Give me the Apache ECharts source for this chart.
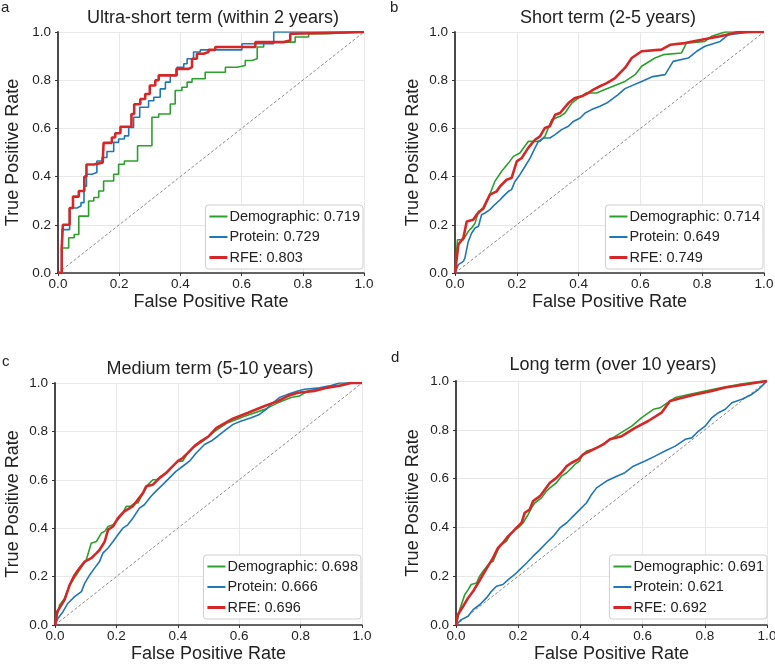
<!DOCTYPE html>
<html>
<head>
<meta charset="utf-8">
<script src="https://cdn.jsdelivr.net/npm/echarts@6/dist/echarts.min.js"></script>
<style>
  html, body { margin: 0; padding: 0; background: #fff; }
  #chart { width: 775px; height: 665px; }
</style>
</head>
<body>
<div id="chart"></div>
<script>
// panel titles / letters
const panelTitles = [
  'Ultra-short term (within 2 years)',
  'Short term (2-5 years)',
  'Medium term (5-10 years)',
  'Long term (over 10 years)'
]
const panelLetters = ['a', 'b', 'c', 'd']
const tickValues = [0, 0.2, 0.4, 0.6, 0.8, 1.0]

// AUC per panel
const aucDemographic = ['0.719', '0.714', '0.698', '0.691']
const aucProtein = ['0.729', '0.649', '0.666', '0.621']
const aucRfe = ['0.803', '0.749', '0.696', '0.692']

// ROC points [fpr, tpr]
const rocADemographic = [[0,0],[0.013,0.104],[0.024,0.104],[0.035,0.146],[0.053,0.16],[0.068,0.236],[0.089,0.236],[0.1,0.299],[0.117,0.313],[0.133,0.34],[0.149,0.382],[0.169,0.382],[0.182,0.41],[0.198,0.451],[0.217,0.465],[0.242,0.465],[0.26,0.528],[0.291,0.528],[0.307,0.646],[0.329,0.66],[0.351,0.66],[0.367,0.701],[0.383,0.757],[0.405,0.771],[0.422,0.792],[0.438,0.806],[0.46,0.806],[0.481,0.833],[0.525,0.833],[0.547,0.854],[0.585,0.861],[0.612,0.882],[0.634,0.889],[0.651,0.938],[0.672,0.958],[0.737,0.958],[0.775,0.979],[0.808,0.979],[0.819,0.993],[0.879,0.993],[0.884,1],[1,1]]
const rocAProtein = [[0,0],[0.013,0.18],[0.027,0.18],[0.038,0.27],[0.062,0.278],[0.075,0.292],[0.085,0.36],[0.093,0.41],[0.111,0.417],[0.127,0.465],[0.144,0.479],[0.16,0.504],[0.182,0.542],[0.198,0.556],[0.217,0.569],[0.231,0.604],[0.247,0.646],[0.267,0.688],[0.28,0.688],[0.296,0.715],[0.313,0.729],[0.334,0.764],[0.351,0.792],[0.367,0.82],[0.389,0.854],[0.411,0.868],[0.422,0.889],[0.443,0.917],[0.465,0.926],[0.579,0.926],[0.601,0.951],[0.683,0.951],[0.705,1],[1,1]]
const rocARfe = [[0,0],[0.012,0.1],[0.016,0.2],[0.029,0.2],[0.038,0.27],[0.049,0.317],[0.068,0.34],[0.078,0.34],[0.086,0.4],[0.093,0.45],[0.117,0.458],[0.146,0.458],[0.149,0.54],[0.166,0.54],[0.176,0.562],[0.187,0.58],[0.204,0.607],[0.231,0.607],[0.24,0.66],[0.249,0.7],[0.269,0.722],[0.285,0.743],[0.3,0.778],[0.307,0.778],[0.318,0.8],[0.329,0.82],[0.362,0.82],[0.387,0.847],[0.427,0.854],[0.438,0.889],[0.454,0.91],[0.476,0.917],[0.492,0.926],[0.514,0.938],[0.601,0.938],[0.645,0.958],[0.737,0.965],[0.759,0.993],[0.77,1],[1,1]]

const rocBDemographic = [[0,0],[0.008,0.138],[0.027,0.138],[0.043,0.173],[0.054,0.187],[0.065,0.207],[0.076,0.256],[0.092,0.263],[0.108,0.311],[0.129,0.38],[0.151,0.422],[0.173,0.456],[0.189,0.484],[0.21,0.498],[0.237,0.546],[0.275,0.546],[0.291,0.567],[0.313,0.636],[0.34,0.65],[0.356,0.664],[0.378,0.705],[0.399,0.726],[0.426,0.747],[0.458,0.747],[0.485,0.761],[0.55,0.795],[0.583,0.823],[0.604,0.858],[0.647,0.892],[0.674,0.906],[0.733,0.913],[0.749,0.954],[0.809,0.961],[0.83,0.982],[0.874,1],[1,1]]
const rocBProtein = [[0,0],[0.011,0.035],[0.027,0.048],[0.032,0.062],[0.043,0.131],[0.054,0.166],[0.065,0.187],[0.076,0.194],[0.086,0.242],[0.097,0.249],[0.113,0.263],[0.129,0.284],[0.146,0.304],[0.156,0.318],[0.173,0.339],[0.183,0.346],[0.194,0.38],[0.21,0.408],[0.227,0.443],[0.243,0.477],[0.259,0.519],[0.27,0.546],[0.286,0.56],[0.307,0.56],[0.324,0.574],[0.345,0.595],[0.367,0.609],[0.383,0.629],[0.405,0.643],[0.421,0.664],[0.442,0.678],[0.469,0.692],[0.491,0.705],[0.528,0.74],[0.55,0.765],[0.604,0.795],[0.64,0.815],[0.68,0.823],[0.706,0.878],[0.755,0.892],[0.782,0.92],[0.809,0.941],[0.858,0.961],[0.885,0.989],[0.96,1],[1,1]]
const rocBRfe = [[0,0],[0.011,0.118],[0.027,0.145],[0.038,0.214],[0.059,0.221],[0.07,0.242],[0.092,0.27],[0.113,0.325],[0.135,0.339],[0.146,0.36],[0.167,0.387],[0.183,0.394],[0.2,0.463],[0.216,0.477],[0.237,0.519],[0.259,0.553],[0.275,0.567],[0.291,0.602],[0.307,0.609],[0.324,0.657],[0.34,0.664],[0.367,0.705],[0.388,0.726],[0.41,0.733],[0.431,0.747],[0.448,0.761],[0.469,0.775],[0.491,0.788],[0.518,0.809],[0.55,0.851],[0.572,0.892],[0.604,0.92],[0.668,0.927],[0.696,0.947],[0.744,0.954],[0.798,0.968],[0.858,0.982],[0.917,1],[1,1]]

const rocCDemographic = [[0,0],[0.015,0.083],[0.031,0.11],[0.048,0.166],[0.07,0.207],[0.091,0.249],[0.102,0.27],[0.118,0.338],[0.135,0.345],[0.151,0.38],[0.162,0.387],[0.173,0.407],[0.189,0.414],[0.205,0.435],[0.221,0.463],[0.232,0.49],[0.245,0.49],[0.259,0.504],[0.27,0.504],[0.287,0.546],[0.303,0.58],[0.319,0.6],[0.33,0.6],[0.346,0.615],[0.368,0.635],[0.384,0.656],[0.4,0.677],[0.416,0.677],[0.433,0.711],[0.449,0.732],[0.482,0.76],[0.52,0.8],[0.563,0.836],[0.618,0.863],[0.683,0.891],[0.726,0.918],[0.769,0.94],[0.796,0.946],[0.823,0.967],[0.877,0.981],[0.92,0.988],[0.952,1],[1,1]]
const rocCProtein = [[0,0],[0.01,0.028],[0.026,0.055],[0.042,0.09],[0.064,0.117],[0.086,0.138],[0.097,0.173],[0.113,0.207],[0.129,0.235],[0.145,0.262],[0.156,0.297],[0.173,0.318],[0.189,0.345],[0.205,0.373],[0.221,0.4],[0.237,0.414],[0.254,0.442],[0.275,0.483],[0.291,0.497],[0.313,0.532],[0.329,0.553],[0.351,0.58],[0.373,0.608],[0.394,0.635],[0.416,0.656],[0.438,0.677],[0.46,0.711],[0.487,0.746],[0.509,0.76],[0.53,0.78],[0.558,0.808],[0.58,0.829],[0.607,0.843],[0.639,0.856],[0.666,0.87],[0.688,0.891],[0.704,0.912],[0.731,0.94],[0.758,0.953],[0.791,0.967],[0.813,0.974],[0.862,0.98],[0.894,0.988],[0.927,1],[1,1]]
const rocCRfe = [[0,0],[0.007,0.055],[0.021,0.083],[0.031,0.104],[0.048,0.166],[0.064,0.207],[0.08,0.235],[0.097,0.262],[0.118,0.276],[0.135,0.297],[0.145,0.31],[0.162,0.345],[0.173,0.394],[0.189,0.407],[0.205,0.442],[0.226,0.47],[0.253,0.49],[0.27,0.518],[0.287,0.546],[0.297,0.573],[0.319,0.58],[0.341,0.608],[0.362,0.628],[0.378,0.649],[0.4,0.677],[0.416,0.69],[0.433,0.711],[0.454,0.739],[0.476,0.76],[0.501,0.78],[0.526,0.815],[0.575,0.85],[0.629,0.877],[0.683,0.905],[0.726,0.925],[0.758,0.946],[0.791,0.96],[0.845,0.967],[0.888,0.981],[0.931,0.99],[0.964,1],[1,1]]

const rocDDemographic = [[0,0],[0.012,0.063],[0.028,0.124],[0.039,0.145],[0.049,0.166],[0.066,0.172],[0.076,0.2],[0.087,0.22],[0.108,0.254],[0.119,0.261],[0.135,0.309],[0.146,0.33],[0.162,0.343],[0.178,0.378],[0.189,0.391],[0.2,0.398],[0.216,0.419],[0.232,0.453],[0.243,0.48],[0.253,0.5],[0.275,0.521],[0.291,0.549],[0.302,0.562],[0.323,0.583],[0.339,0.61],[0.356,0.624],[0.372,0.644],[0.382,0.658],[0.398,0.672],[0.404,0.692],[0.42,0.713],[0.441,0.72],[0.463,0.733],[0.479,0.747],[0.522,0.781],[0.565,0.815],[0.597,0.85],[0.635,0.884],[0.656,0.89],[0.672,0.904],[0.705,0.932],[0.748,0.945],[0.801,0.959],[0.855,0.973],[0.909,0.986],[0.989,1],[1,1]]
const rocDProtein = [[0,0],[0.017,0.022],[0.039,0.036],[0.055,0.063],[0.076,0.083],[0.098,0.111],[0.114,0.138],[0.13,0.159],[0.151,0.166],[0.168,0.186],[0.189,0.207],[0.205,0.227],[0.227,0.254],[0.248,0.282],[0.27,0.309],[0.291,0.337],[0.313,0.364],[0.334,0.398],[0.356,0.419],[0.377,0.446],[0.398,0.473],[0.42,0.501],[0.436,0.535],[0.452,0.562],[0.484,0.59],[0.517,0.61],[0.543,0.624],[0.57,0.651],[0.608,0.672],[0.64,0.692],[0.672,0.713],[0.705,0.733],[0.737,0.761],[0.758,0.767],[0.78,0.795],[0.801,0.815],[0.823,0.85],[0.844,0.87],[0.866,0.884],[0.887,0.911],[0.919,0.925],[0.951,0.945],[0.973,0.966],[0.989,0.986],[1,1]]
const rocDRfe = [[0,0],[0.006,0.042],[0.023,0.077],[0.039,0.111],[0.055,0.138],[0.071,0.172],[0.087,0.207],[0.103,0.241],[0.119,0.275],[0.135,0.316],[0.151,0.337],[0.168,0.364],[0.184,0.384],[0.194,0.398],[0.211,0.419],[0.221,0.46],[0.237,0.473],[0.248,0.508],[0.27,0.528],[0.286,0.555],[0.302,0.583],[0.323,0.603],[0.339,0.624],[0.356,0.651],[0.372,0.665],[0.393,0.679],[0.409,0.699],[0.431,0.713],[0.452,0.726],[0.474,0.74],[0.495,0.761],[0.533,0.774],[0.576,0.808],[0.618,0.836],[0.661,0.87],[0.688,0.918],[0.731,0.932],[0.769,0.945],[0.823,0.959],[0.866,0.973],[0.93,0.986],[1,1]]

const chanceLine = [[0, 0], [1, 1]]

const rocDemographic = [rocADemographic, rocBDemographic, rocCDemographic, rocDDemographic]
const rocProtein = [rocAProtein, rocBProtein, rocCProtein, rocDProtein]
const rocRfe = [rocARfe, rocBRfe, rocCRfe, rocDRfe]

// layout of the 2x2 panels (px)
const panels = [
  { left: 58, top: 32, width: 306, height: 241, legendRight: 412, legendBottom: 396, nameGapY: 36, titleX: 213, titleY: 9, letterX: 1, letterY: 0 },
  { left: 455, top: 32, width: 309, height: 241, legendRight: 12, legendBottom: 396, nameGapY: 33, titleX: 608, titleY: 9, letterX: 390, letterY: 0 },
  { left: 55, top: 383, width: 307, height: 242, legendRight: 414, legendBottom: 46, nameGapY: 33, titleX: 210, titleY: 360, letterX: 2, letterY: 354 },
  { left: 456, top: 381, width: 311, height: 244, legendRight: 8, legendBottom: 46, nameGapY: 34, titleX: 613, titleY: 356, letterX: 391, letterY: 350 }
]

const FONT = 'Liberation Sans, Arial, Helvetica, sans-serif'
const GREEN = '#2ca02c'
const BLUE = '#1f77b4'
const RED = '#d62728'
const TXT = '#222'

// legend line samples: invisible move-tos keep a 18x12 box, the bar is the visible line
const thinIcon = 'path://M0,0 M18,12 M0,5 L18,5 L18,7 L0,7 Z'
const thickIcon = 'path://M0,0 M18,12 M0,4.5 L18,4.5 L18,7.5 L0,7.5 Z'

const chart = echarts.init(document.getElementById('chart'))

const grids = []
const xAxes = []
const yAxes = []
const legends = []
const series = []
const graphics = []

panels.forEach((p, i) => {
  grids.push({ left: p.left, top: p.top, width: p.width, height: p.height, containLabel: false, outerBoundsMode: 'none' })

  const axisBase = {
    type: 'value',
    gridIndex: i,
    min: 0,
    max: 1,
    interval: 0.2,
    nameLocation: 'middle',
    nameTextStyle: { fontSize: 18, color: TXT, fontFamily: FONT },
    axisTick: { show: true, length: 3, lineStyle: { color: '#333', width: 1 } },
    axisLabel: {
      fontSize: 13.5, color: TXT, fontFamily: FONT,
      showMinLabel: true, showMaxLabel: true, hideOverlap: false,
      formatter: v => {
        const t = tickValues.find(tv => Math.abs(tv - v) < 1e-6)
        return (t === undefined ? v : t).toFixed(1)
      }
    },
    splitLine: { show: true, lineStyle: { color: '#e8e8e8', width: 1 } }
  }

  xAxes.push(Object.assign({}, axisBase, {
    name: 'False Positive Rate',
    nameGap: 20,
    axisLine: { show: true, onZero: false, lineStyle: { color: '#333', width: 1.5 } },
    axisLabel: Object.assign({}, axisBase.axisLabel, { margin: 4 })
  }))
  yAxes.push(Object.assign({}, axisBase, {
    name: 'True Positive Rate',
    nameGap: p.nameGapY,
    nameRotate: 90,
    axisLine: { show: true, onZero: false, lineStyle: { color: '#4a4a4a', width: 2 } },
    axisLabel: Object.assign({}, axisBase.axisLabel, { margin: 7 })
  }))

  const nDemo = 'Demographic: ' + aucDemographic[i]
  const nProt = 'Protein: ' + aucProtein[i]
  const nRfe = 'RFE: ' + aucRfe[i]

  legends.push({
    orient: 'vertical',
    right: p.legendRight,
    bottom: p.legendBottom,
    data: [
      { name: nDemo, icon: thinIcon },
      { name: nProt, icon: thinIcon },
      { name: nRfe, icon: thickIcon }
    ],
    itemWidth: 18,
    itemHeight: 12,
    itemGap: 5.5,
    padding: [4, 3, 4, 4],
    backgroundColor: '#fff',
    borderColor: '#cfcfcf',
    borderWidth: 1,
    borderRadius: 3,
    selectedMode: false,
    textStyle: { fontSize: 14.5, color: TXT, fontFamily: FONT, lineHeight: 15, padding: [0, 0, 0, -3] }
  })

  const lineBase = {
    type: 'line',
    xAxisIndex: i,
    yAxisIndex: i,
    symbol: 'none',
    showSymbol: false,
    silent: true,
    animation: false,
    step: i === 0 ? 'end' : false
  }

  series.push(Object.assign({}, lineBase, {
    name: 'chance ' + i,
    data: chanceLine,
    step: false,
    z: 1,
    lineStyle: { color: '#8a8a8a', width: 1, type: [3, 2] }
  }))
  series.push(Object.assign({}, lineBase, {
    name: nDemo, data: rocDemographic[i], z: 2,
    itemStyle: { color: GREEN }, lineStyle: { color: GREEN, width: 1.6 }
  }))
  series.push(Object.assign({}, lineBase, {
    name: nProt, data: rocProtein[i], z: 3,
    itemStyle: { color: BLUE }, lineStyle: { color: BLUE, width: 1.6 }
  }))
  series.push(Object.assign({}, lineBase, {
    name: nRfe, data: rocRfe[i], z: 4,
    itemStyle: { color: RED }, lineStyle: { color: RED, width: 2.6 }
  }))

  graphics.push({
    type: 'text', x: p.titleX, y: p.titleY,
    style: { text: panelTitles[i], fontSize: 18, fontFamily: FONT, fill: TXT, textAlign: 'center', textVerticalAlign: 'top', align: 'center', verticalAlign: 'top' }
  })
  graphics.push({
    type: 'text', x: p.letterX, y: p.letterY,
    style: { text: panelLetters[i], fontSize: 15, fontFamily: FONT, fill: TXT, textAlign: 'left', textVerticalAlign: 'top', align: 'left', verticalAlign: 'top' }
  })
})

chart.setOption({
  animation: false,
  backgroundColor: '#fff',
  textStyle: { fontFamily: FONT },
  grid: grids,
  xAxis: xAxes,
  yAxis: yAxes,
  legend: legends,
  series: series,
  graphic: graphics
})
</script>
</body>
</html>
